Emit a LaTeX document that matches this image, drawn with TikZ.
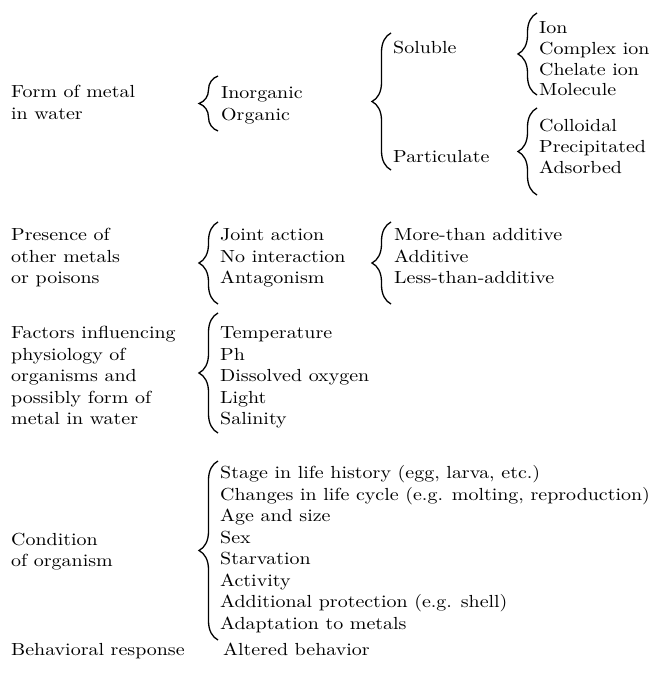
\documentclass[tikz,border=0pt]{standalone}
\usepackage{fontspec}
\setmainfont{lmroman10-regular.otf}[FakeStretch=1.14]
\usepackage{tikz}
\usetikzlibrary{decorations.pathreplacing}
\tikzset{
  txt/.style={anchor=base west, inner sep=0pt, font=\fontsize{17.5}{21.5}\selectfont},
  brc/.style={decorate, decoration={brace, amplitude=19pt}, line width=1.3pt}
}
\begin{document}
\begin{tikzpicture}[x=1pt, y=-1pt]
\useasboundingbox (0,0) rectangle (654,679);
% form of metal
\node[txt] (form1) at (11,98) {Form of metal};
\node[txt] (form2) at (11,119.5) {in water};
\draw[brc] (218,131) -- (218,76);
\node[txt] (inorg) at (221,99) {Inorganic};
\node[txt] (org) at (221,120.5) {Organic};
\draw[brc] (391,170) -- (391,33);
\node[txt] (sol) at (393,54) {Soluble};
\node[txt] (part) at (393,163) {Particulate};
\draw[brc] (537,95) -- (537,13);
\node[txt] (ion) at (539,33.5) {Ion};
\node[txt] (cion) at (539,54.5) {Complex ion};
\node[txt] (chel) at (539,75.5) {Chelate ion};
\node[txt] (mol) at (539,96) {Molecule};
\draw[brc] (537,195) -- (537,108);
\node[txt] (coll) at (539,131.5) {Colloidal};
\node[txt] (prec) at (539,152.5) {Precipitated};
\node[txt] (adso) at (539,173.5) {Adsorbed};
% other metals
\node[txt] (pres1) at (11,240.5) {Presence of};
\node[txt] (pres2) at (11,262) {other metals};
\node[txt] (pres3) at (11,283.5) {or poisons};
\draw[brc] (218,304) -- (218,222);
\node[txt] (joint) at (220,240.5) {Joint action};
\node[txt] (noint) at (220,262) {No interaction};
\node[txt] (anta) at (220,283.5) {Antagonism};
\draw[brc] (391,304) -- (391,222);
\node[txt] (more) at (394,240.5) {More-than additive};
\node[txt] (addi) at (394,262) {Additive};
\node[txt] (less) at (394,283.5) {Less-than-additive};
% physiology
\node[txt] (fact1) at (11,338) {Factors influencing};
\node[txt] (fact2) at (11,360) {physiology of};
\node[txt] (fact3) at (11,381.5) {organisms and};
\node[txt] (fact4) at (11,403) {possibly form of};
\node[txt] (fact5) at (11,424.5) {metal in water};
\draw[brc] (218,433) -- (218,313);
\node[txt] (temp) at (220,338) {Temperature};
\node[txt] (ph) at (220,360) {Ph};
\node[txt] (oxy) at (220,381.5) {Dissolved oxygen};
\node[txt] (light) at (220,403) {Light};
\node[txt] (sal) at (220,424.5) {Salinity};
% organism
\node[txt] (cond1) at (11,545) {Condition};
\node[txt] (cond2) at (11,566.5) {of organism};
\draw[brc] (218,640) -- (218,461);
\node[txt] (stage) at (220,478) {Stage in life history (egg, larva, etc.)};
\node[txt] (cycle) at (220,500) {Changes in life cycle (e.g. molting, reproduction)};
\node[txt] (age) at (220,521.5) {Age and size};
\node[txt] (sex) at (220,543) {Sex};
\node[txt] (starv) at (220,564.5) {Starvation};
\node[txt] (activ) at (220,586) {Activity};
\node[txt] (prot) at (220,607.5) {Additional protection (e.g. shell)};
\node[txt] (adap) at (220,629) {Adaptation to metals};
% behaviour
\node[txt] (behav) at (11,655) {Behavioral response};
\node[txt] (alter) at (223,655) {Altered behavior};
\end{tikzpicture}
\end{document}
